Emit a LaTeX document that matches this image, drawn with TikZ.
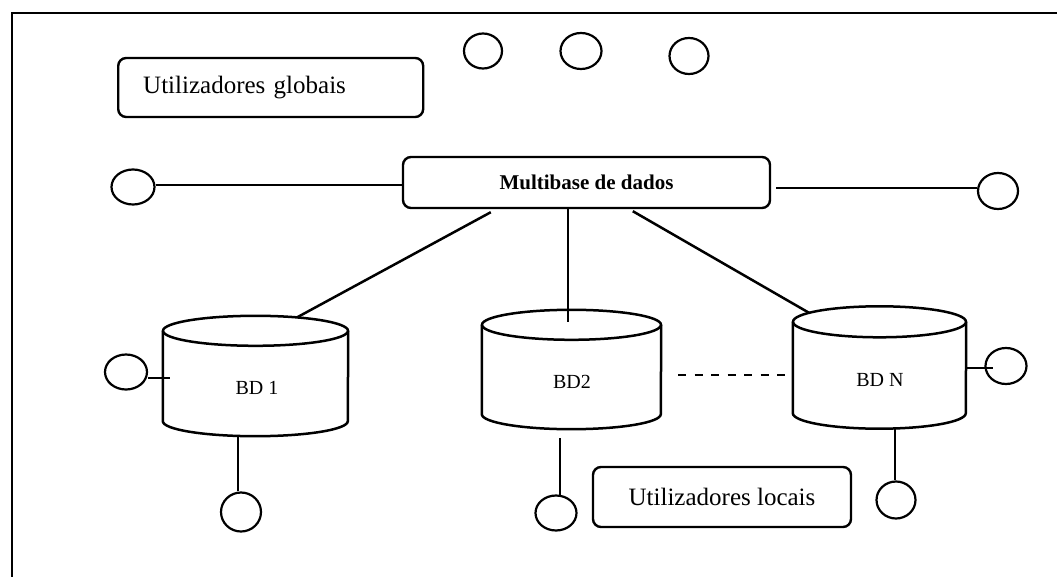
\documentclass[tikz,border=0pt]{standalone}
\usepackage{fontspec}
\setmainfont{Liberation Serif}
\usetikzlibrary{calc,shapes.geometric}

\tikzset{
  box/.style={draw, line width=2.4pt, rounded corners=8pt, inner sep=0pt},
  user/.style={draw, ellipse, line width=2.2pt, inner sep=0pt},
  dbbody/.style={inner sep=0pt},
  link/.style={line width=2.5pt},
  cyl/.style={line width=2.5pt},
  dblabel/.style={font=\fontsize{20}{24}\selectfont, inner sep=0pt}
}

% cylinder outline around a named body node: #1 node, #2 x radius, #3 y radius
\newcommand\drawdbcyl[3]{%
  \draw[cyl] (#1.north west) -- (#1.south west)
    arc[start angle=180, end angle=360, x radius=#2pt, y radius=#3pt]
    -- (#1.north east);
  \draw[cyl] (#1.north) ellipse[x radius=#2pt, y radius=#3pt];
}

\begin{document}
\begin{tikzpicture}[x=1pt, y=-1pt]
  \useasboundingbox (0,0) rectangle (1057,577);

  % outer frame (top and left edges)
  \draw[line width=2.2pt] (12,577) -- (12,13) -- (1057,13);

  % labels
  \node[box, anchor=west, text width=255pt, align=left, inner xsep=25pt,
        minimum height=59pt, font=\fontsize{25}{30}\selectfont]
        (glob) at (117,87.5) {Utilizadores globais};
  \node[box, minimum width=258pt, minimum height=60pt,
        font=\fontsize{25}{30}\selectfont]
        (loc) at (722,497) {Utilizadores locais};
  \node[box, minimum width=367pt, minimum height=51pt,
        font=\bfseries\fontsize{21}{25}\selectfont]
        (mb) at (586.5,182.5) {Multibase de dados};

  % global users
  \node[user, minimum width=38pt, minimum height=35pt] (g1) at (483,51) {};
  \node[user, minimum width=41pt, minimum height=36pt] (g2) at (581,51) {};
  \node[user, minimum width=39pt, minimum height=36pt] (g3) at (689,56) {};
  \node[user, minimum width=43pt, minimum height=35pt] (gl) at (133,187) {};
  \node[user, minimum width=40pt, minimum height=36pt] (gr) at (998,191) {};

  % databases
  \node[dbbody, minimum width=185pt, minimum height=90pt] (bd1) at (255.5,376) {};
  \node[dbbody, minimum width=179pt, minimum height=89pt] (bd2) at (571.5,369.5) {};
  \node[dbbody, minimum width=173pt, minimum height=91pt] (bdn) at (879.5,367.5) {};
  \drawdbcyl{bd1}{92.5}{15}
  \drawdbcyl{bd2}{89.5}{15}
  \drawdbcyl{bdn}{86.5}{15.5}
  \node[dblabel] (bd1t) at (257,388) {BD 1};
  \node[dblabel] (bd2t) at (572,382) {BD2};
  \node[dblabel] (bdnt) at (880,380) {BD N};

  % local users
  \node[user, minimum width=42pt, minimum height=35pt] (l1a) at (126,372) {};
  \node[user, minimum width=40pt, minimum height=39pt] (l1b) at (241,512) {};
  \node[user, minimum width=41pt, minimum height=35pt] (l2b) at (556,513) {};
  \node[user, minimum width=41pt, minimum height=36pt] (lna) at (1006,366) {};
  \node[user, minimum width=39pt, minimum height=37pt] (lnb) at (896,500) {};

  % global users to the multidatabase
  \draw[link] (gl.east) ++(0,-2) coordinate (glx) -- (glx -| mb.west);
  \draw[link] ($(gr.west)+(0,-3)$) coordinate (grx) -- ($(grx -| mb.east)+(5,0)$);

  % multidatabase to the local databases
  \coordinate (bd1top) at ($(bd1.north)+(41.5,-13.4)$);
  \coordinate (bdntop) at ($(bdn.north)+(-70.5,-9)$);
  \draw[link] ($(mb.south west)+(89,3)$) -- (bd1top);
  \draw[link] ($(bd2.north)+(-3.5,-3)$) coordinate (bd2in) -- (bd2in |- mb.south);
  \draw[link] ($(mb.south west)+(231,2)$) -- (bdntop);
  \draw[link, dash pattern=on 8pt off 8.5pt]
    ($(bd2.east)+(17,5.5)$) coordinate (dsh) -- (dsh -| bdn.west);

  % local users to their databases
  \draw[link] ($(l1a.east)+(0,6)$) coordinate (l1ax) -- ($(l1ax -| bd1.west)+(7,0)$);
  \draw[link] ($(l1b.north)+(-3,0)$) coordinate (l1bx) -- ($(l1bx |- bd1.south)+(0,14.5)$);
  \draw[link] ($(l2b.north)+(4,0.5)$) coordinate (l2bx) -- ($(l2bx |- bd2.south)+(0,23.5)$);
  \draw[link] ($(bdn.east)+(0,0.5)$) coordinate (lnax) -- ($(lnax -| lna.west)+(9,0)$);
  \draw[link] ($(lnb.north)+(-1,0)$) coordinate (lnbx) -- ($(lnbx |- bdn.south)+(0,15)$);
\end{tikzpicture}
\end{document}
